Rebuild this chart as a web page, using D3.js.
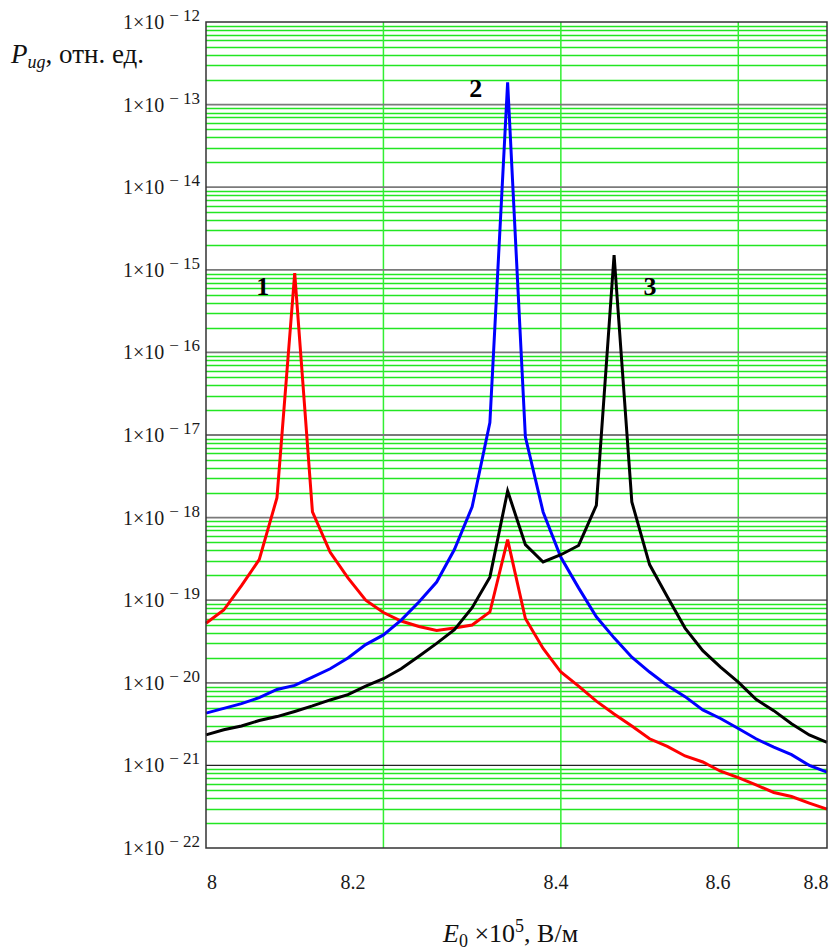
<!DOCTYPE html>
<html>
<head>
<meta charset="utf-8">
<script src="https://cdn.jsdelivr.net/npm/d3@7"></script>
<style>
  body { margin: 0; background: #fff; }
  svg { display: block; font-family: "Liberation Serif", "Times New Roman", serif; }
</style>
</head>
<body>
<svg class="chart"></svg>
<script>
var width = 829,
    height = 950;

// E0 (x10^5 V/m)
var field = [8.00, 8.02, 8.04, 8.06, 8.08, 8.10, 8.12, 8.14, 8.16, 8.18,
             8.20, 8.22, 8.24, 8.26, 8.28, 8.30, 8.32, 8.34, 8.36, 8.38,
             8.40, 8.42, 8.44, 8.46, 8.48, 8.50, 8.52, 8.54, 8.56, 8.58,
             8.60, 8.62, 8.64, 8.66, 8.68, 8.70];

var curve1 = [5.25e-20, 7.6e-20, 1.5e-19, 3.1e-19, 1.74e-18, 9.1e-16, 1.17e-18, 3.8e-19, 1.86e-19, 1.0e-19,
              7.1e-20, 5.6e-20, 4.8e-20, 4.3e-20, 4.6e-20, 5.0e-20, 7.2e-20, 5.4e-19, 6.0e-20, 2.6e-20,
              1.35e-20, 9.1e-21, 6.0e-21, 4.2e-21, 3.0e-21, 2.1e-21, 1.7e-21, 1.3e-21, 1.1e-21, 8.5e-22,
              7.1e-22, 5.8e-22, 4.7e-22, 4.2e-22, 3.5e-22, 2.95e-22];

var curve2 = [4.3e-21, 4.9e-21, 5.6e-21, 6.6e-21, 8.3e-21, 9.3e-21, 1.17e-20, 1.48e-20, 2.0e-20, 2.9e-20,
              3.8e-20, 5.75e-20, 9.5e-20, 1.66e-19, 4.1e-19, 1.35e-18, 1.41e-17, 1.86e-13, 9.5e-18, 1.17e-18,
              3.3e-19, 1.41e-19, 6.3e-20, 3.5e-20, 2.04e-20, 1.35e-20, 9.3e-21, 6.8e-21, 4.7e-21, 3.7e-21,
              2.8e-21, 2.1e-21, 1.66e-21, 1.35e-21, 1.0e-21, 8.3e-22];

var curve3 = [2.34e-21, 2.7e-21, 3.0e-21, 3.5e-21, 3.9e-21, 4.5e-21, 5.25e-21, 6.2e-21, 7.2e-21, 9.1e-21,
              1.12e-20, 1.48e-20, 2.1e-20, 3.0e-20, 4.4e-20, 8.1e-20, 1.9e-19, 2.1e-18, 4.7e-19, 2.9e-19,
              3.55e-19, 4.6e-19, 1.41e-18, 1.51e-15, 1.55e-18, 2.7e-19, 1.1e-19, 4.6e-20, 2.45e-20, 1.55e-20,
              1.02e-20, 6.3e-21, 4.6e-21, 3.2e-21, 2.34e-21, 1.9e-21];

var seriesNames = ["1", "2", "3"];
var seriesColors = ["#ff0000", "#0000ff", "#000000"];
// curve number labels: [E0, P]
var seriesLabelAt = [[8.064, 4.95e-16], [8.304, 1.24e-13], [8.5005, 4.95e-16]];

var yExponents = [-12, -13, -14, -15, -16, -17, -18, -19, -20, -21, -22];
var xGridValues = [8.2, 8.4, 8.6];
var xTickLabels = ["8", "8.2", "8.4", "8.6", "8.8"];
var xTickLabelAt = [8.0068, 8.1657, 8.3945, 8.5772, 8.6877];

var plot = { left: 206, right: 827, top: 22, bottom: 848 };

var svg = d3.select(".chart")
    .attr("width", width)
    .attr("height", height);

var x = d3.scaleLinear()
    .domain([8, 8.7])
    .range([plot.left, plot.right]);

var y = d3.scaleLog()
    .domain([1e-22, 1e-12])
    .range([plot.bottom, plot.top]);

// minor horizontal grid: 2..9 in each decade
var minor = [];
yExponents.slice(1).forEach(function (e) {
    d3.range(2, 10).forEach(function (k) { minor.push(k * Math.pow(10, e)); });
});

svg.append("g")
    .selectAll("line")
    .data(minor)
    .enter()
    .append("line")
    .attr("x1", plot.left)
    .attr("x2", plot.right)
    .attr("y1", function (d) { return Math.round(y(d)) + 0.5; })
    .attr("y2", function (d) { return Math.round(y(d)) + 0.5; })
    .style("stroke", "#22e622")
    .style("stroke-width", 1.3);

svg.append("g")
    .selectAll("line")
    .data(xGridValues)
    .enter()
    .append("line")
    .attr("x1", function (d) { return x(d); })
    .attr("x2", function (d) { return x(d); })
    .attr("y1", plot.top)
    .attr("y2", plot.bottom)
    .style("stroke", "#33ee33")
    .style("stroke-width", 1.5);

// decade lines
svg.append("g")
    .selectAll("line")
    .data(yExponents.slice(1, -1))
    .enter()
    .append("line")
    .attr("x1", plot.left)
    .attr("x2", plot.right)
    .attr("y1", function (d) { return y(Math.pow(10, d)); })
    .attr("y2", function (d) { return y(Math.pow(10, d)); })
    .style("stroke", function (d) { return d == -21 ? "#222" : "#7a7a7a"; })
    .style("stroke-width", function (d) { return d == -21 ? 1.2 : 1.8; });

var line = d3.line()
    .x(function (d) { return x(d[0]); })
    .y(function (d) { return y(d[1]); });

[curve1, curve2, curve3].forEach(function (c, i) {
    svg.append("path")
        .datum(c.map(function (v, j) { return [field[j], v]; }))
        .attr("d", line)
        .style("fill", "none")
        .style("stroke", seriesColors[i])
        .style("stroke-width", 3)
        .style("stroke-linejoin", "miter");
});

svg.append("rect")
    .attr("x", plot.left)
    .attr("y", plot.top)
    .attr("width", plot.right - plot.left)
    .attr("height", plot.bottom - plot.top)
    .style("fill", "none")
    .style("stroke", "#333")
    .style("stroke-width", 1.5);

// y tick labels 1×10^-n
var yl = svg.append("g")
    .selectAll("text")
    .data(yExponents)
    .enter()
    .append("text")
    .attr("x", plot.left - 6)
    .attr("y", function (d) { return y(Math.pow(10, d)) + 7; })
    .attr("text-anchor", "end")
    .style("font-size", "20px")
    .style("fill", "#1a1a1a");
yl.append("tspan").text("1×10");
yl.append("tspan")
    .attr("dx", 5)
    .attr("dy", -8)
    .style("font-size", "17px")
    .text(function (d) { return "− " + (-d); });

svg.append("g")
    .selectAll("text")
    .data(xTickLabels)
    .enter()
    .append("text")
    .attr("x", function (d, i) { return x(xTickLabelAt[i]); })
    .attr("y", plot.bottom + 41)
    .attr("text-anchor", "middle")
    .style("font-size", "20px")
    .style("fill", "#1a1a1a")
    .text(function (d) { return d; });

svg.append("g")
    .selectAll("text")
    .data(seriesNames)
    .enter()
    .append("text")
    .attr("x", function (d, i) { return x(seriesLabelAt[i][0]); })
    .attr("y", function (d, i) { return y(seriesLabelAt[i][1]); })
    .attr("text-anchor", "middle")
    .style("font-size", "26px")
    .style("font-weight", "bold")
    .text(function (d) { return d; });

// axis titles
var yt = svg.append("text")
    .attr("x", 11)
    .attr("y", 63)
    .style("font-size", "27px")
    .style("fill", "#111");
yt.append("tspan").style("font-style", "italic").text("P");
yt.append("tspan").style("font-style", "italic").style("font-size", "18px").attr("dy", 5).text("ug");
yt.append("tspan").attr("dy", -5).text(", отн. ед.");

var xt = svg.append("text")
    .attr("x", 443)
    .attr("y", 942)
    .style("font-size", "26px")
    .style("fill", "#111");
xt.append("tspan").style("font-style", "italic").text("E");
xt.append("tspan").style("font-size", "18px").attr("dy", 5).text("0");
xt.append("tspan").attr("dy", -5).text(" ×10");
xt.append("tspan").style("font-size", "18px").attr("dy", -10).text("5");
xt.append("tspan").attr("dy", 10).text(", В/м");
</script>
</body>
</html>
